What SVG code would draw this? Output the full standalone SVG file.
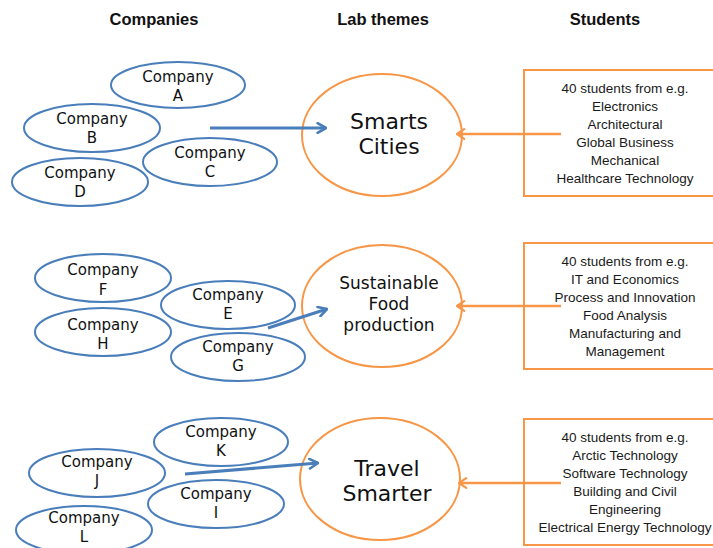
<svg xmlns="http://www.w3.org/2000/svg" width="713" height="548" viewBox="0 0 713 548">
<style>
.hdr{font-family:"Liberation Sans",Arial,sans-serif;font-weight:bold;font-size:16.5px;fill:#111;text-anchor:middle}
.co ellipse{fill:#fff;stroke:#4a7ebb;stroke-width:2}
.co text{font-family:"DejaVu Sans",Verdana,sans-serif;font-size:15px;fill:#111;text-anchor:middle}
.th ellipse{fill:#fff;stroke:#f79646;stroke-width:2}
.th text{font-family:"DejaVu Sans",Verdana,sans-serif;fill:#111;text-anchor:middle}
.st rect{fill:#fff;stroke:#f79646;stroke-width:2}
.st text{font-family:"Liberation Sans",Arial,sans-serif;font-size:13.5px;fill:#1a1a1a;text-anchor:middle}
.blue{stroke:#4a7ebb;stroke-width:3;fill:none;marker-end:url(#ab)}
.orng{stroke:#f79646;stroke-width:2.4;fill:none;marker-end:url(#ao)}
</style>
<defs>
<marker id="ab" viewBox="0 0 10 10" refX="9" refY="5" markerWidth="4" markerHeight="4" orient="auto" markerUnits="strokeWidth">
<path d="M2,1 L9,5 L2,9" fill="none" stroke="#4a7ebb" stroke-width="2.2" stroke-linecap="round" stroke-linejoin="round"/>
</marker>
<marker id="ao" viewBox="0 0 10 10" refX="9" refY="5" markerWidth="5" markerHeight="5" orient="auto" markerUnits="strokeWidth">
<path d="M3,1 L9,5 L3,9" fill="none" stroke="#f79646" stroke-width="1.8" stroke-linecap="round" stroke-linejoin="round"/>
</marker>
</defs>
<rect width="713" height="548" fill="#fff"/>
<text class="hdr" x="154" y="25">Companies</text>
<text class="hdr" x="383" y="25">Lab themes</text>
<text class="hdr" x="605" y="25">Students</text>

<g id="companyA" class="co"><ellipse cx="178" cy="85" rx="67" ry="23"/><text x="178" y="82">Company</text><text x="178" y="101">A</text></g>
<g id="companyB" class="co"><ellipse cx="92" cy="128" rx="68" ry="24"/><text x="92" y="124">Company</text><text x="92" y="143">B</text></g>
<g id="companyC" class="co"><ellipse cx="210" cy="162" rx="67" ry="24"/><text x="210" y="158">Company</text><text x="210" y="177">C</text></g>
<g id="companyD" class="co"><ellipse cx="80" cy="182" rx="68" ry="24"/><text x="80" y="178">Company</text><text x="80" y="197">D</text></g>

<g id="companyF" class="co"><ellipse cx="103" cy="278" rx="68" ry="24"/><text x="103" y="275">Company</text><text x="103" y="295">F</text></g>
<g id="companyE" class="co"><ellipse cx="228" cy="305" rx="67" ry="24"/><text x="228" y="300">Company</text><text x="228" y="319">E</text></g>
<g id="companyH" class="co"><ellipse cx="103" cy="332" rx="68" ry="24"/><text x="103" y="330">Company</text><text x="103" y="349">H</text></g>
<g id="companyG" class="co"><ellipse cx="238" cy="357" rx="67" ry="24"/><text x="238" y="352">Company</text><text x="238" y="371">G</text></g>

<g id="companyK" class="co"><ellipse cx="221" cy="442" rx="67" ry="24"/><text x="221" y="437">Company</text><text x="221" y="456">K</text></g>
<g id="companyJ" class="co"><ellipse cx="97" cy="473" rx="68" ry="24"/><text x="97" y="467">Company</text><text x="97" y="486">J</text></g>
<g id="companyI" class="co"><ellipse cx="216" cy="504" rx="68" ry="24"/><text x="216" y="499">Company</text><text x="216" y="518">I</text></g>
<g id="companyL" class="co"><ellipse cx="84" cy="530" rx="68" ry="24"/><text x="84" y="523">Company</text><text x="84" y="542">L</text></g>

<g id="themeSmart" class="th"><ellipse cx="382" cy="135" rx="80" ry="61"/><text x="389" y="129" font-size="22">Smarts</text><text x="389" y="154" font-size="22">Cities</text></g>
<g id="themeFood" class="th"><ellipse cx="382" cy="306" rx="80" ry="61"/><text x="389" y="289" font-size="17">Sustainable</text><text x="389" y="310" font-size="17">Food</text><text x="389" y="331" font-size="17">production</text></g>
<g id="themeTravel" class="th"><ellipse cx="380" cy="479" rx="80" ry="61"/><text x="387" y="476" font-size="22">Travel</text><text x="387" y="501" font-size="22">Smarter</text></g>

<g id="students1" class="st"><rect x="524" y="70" width="200" height="126"/>
<text x="625" y="93">40 students from e.g.</text><text x="625" y="111">Electronics</text><text x="625" y="129">Architectural</text><text x="625" y="147">Global Business</text><text x="625" y="165">Mechanical</text><text x="625" y="183">Healthcare Technology</text></g>
<g id="students2" class="st"><rect x="524" y="243" width="200" height="126"/>
<text x="625" y="266">40 students from e.g.</text><text x="625" y="284">IT and Economics</text><text x="625" y="302">Process and Innovation</text><text x="625" y="320">Food Analysis</text><text x="625" y="338">Manufacturing and</text><text x="625" y="356">Management</text></g>
<g id="students3" class="st"><rect x="524" y="419" width="200" height="126"/>
<text x="625" y="442">40 students from e.g.</text><text x="625" y="460">Arctic Technology</text><text x="625" y="478">Software Technology</text><text x="625" y="496">Building and Civil</text><text x="625" y="514">Engineering</text><text x="625" y="532">Electrical Energy Technology</text></g>

<g id="connectors">
<line class="blue" x1="210" y1="128" x2="326" y2="128"/>
<line class="blue" x1="268" y1="328" x2="327" y2="309"/>
<line class="blue" x1="185" y1="474" x2="318" y2="463"/>
<line class="orng" x1="561" y1="134" x2="457" y2="134"/>
<line class="orng" x1="561" y1="306" x2="457" y2="306"/>
<line class="orng" x1="561" y1="483" x2="459" y2="483"/>
</g>
</svg>
